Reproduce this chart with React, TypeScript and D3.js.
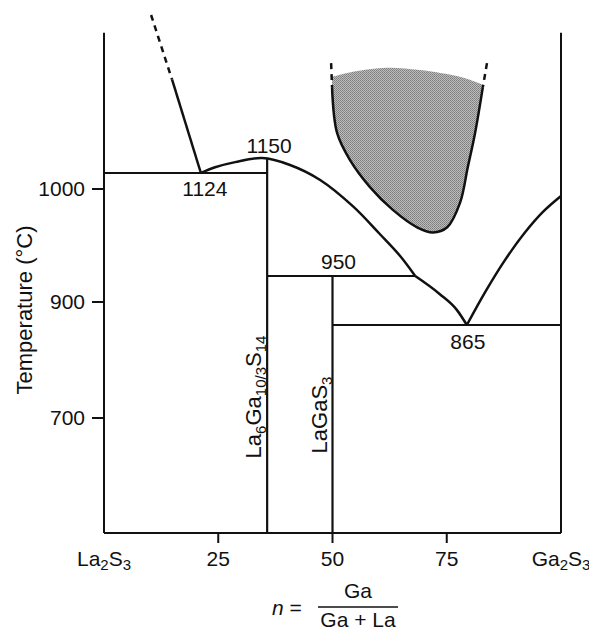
import * as d3 from "d3";

// composition n = Ga/(Ga+La), in %
const xTicks = [25, 50, 75];
const yTicks = [700, 900, 1000];

// the picture is schematic: temperature is not linear, so the y scale is piecewise
const tempAnchors = [500, 700, 865, 900, 950, 1000, 1124, 1400];

// liquidus on the La2S3 side (solid part, dashed continuation)
const liquidusLeftSolid: [number, number][] = [[14.9, 1287], [21.2, 1124]];
const liquidusLeftDashed: [number, number][] = [[10.3, 1400], [14.9, 1287]];

// dome over La6Ga10/3S14, down to the 950 peritectic
const liquidusDome: [number, number][] = [
  [21.2, 1124], [24.3, 1134], [28.7, 1143], [34.6, 1150], [40.7, 1138],
  [47.3, 1070], [54.5, 990], [60.4, 974], [64.8, 961.5], [68.1, 950],
];
// from 950 junction down to the 865 eutectic
const liquidusLow: [number, number][] = [[68.1, 950], [73.5, 915], [77.2, 888], [79.4, 865]];
// Ga2S3 side
const liquidusRight: [number, number][] = [
  [79.4, 865], [83.4, 919], [87.7, 959], [92.1, 975], [96.1, 987], [100, 996],
];

// liquid miscibility gap
const gapBoundary: [number, number][] = [
  [49.9, 1274], [51.0, 1194], [53.8, 1147], [58.2, 1015], [63.2, 988], [68.5, 978],
  [72.0, 975], [75.1, 978], [77.9, 992], [79.6, 1134], [81.2, 1194], [82.9, 1274],
];
const gapTop: [number, number][] = [
  [49.9, 1292], [54.5, 1301], [61.9, 1308], [69.1, 1304], [77.9, 1292], [82.9, 1278],
];
const gapDashLeft: [number, number][] = [[49.7, 1316], [49.9, 1274]];
const gapDashRight: [number, number][] = [[83.8, 1316], [82.9, 1274]];

// invariant lines
const horizontals = [
  { t: 1124, n0: 0, n1: 35.7 },
  { t: 950, n0: 35.7, n1: 68.1 },
  { t: 865, n0: 50, n1: 100 },
];
// compounds
const compounds = [
  { n: 35.7, top: 1150 },
  { n: 50, top: 950 },
];
const pointLabels = [
  { text: "1150", n: 35.7, t: 1150, dx: 2, dy: -5 },
  { text: "1124", n: 21.2, t: 1124, dx: 4, dy: 23 },
  { text: "950", n: 50, t: 950, dx: 6, dy: -7 },
  { text: "865", n: 79.4, t: 865, dx: 1, dy: 24 },
];

const font = "'Liberation Sans', Arial, Helvetica, sans-serif";

export default function App() {
  const width = 589;
  const height = 632;
  const yTop = 1369;

  const x = d3.scaleLinear([0, 100], [104, 561]);
  const y = d3.scaleLinear(tempAnchors, [533, 418, 325, 302, 276, 189, 173, 15]);

  const line = d3.line<[number, number]>((d) => x(d[0]), (d) => y(d[1])).curve(d3.curveMonotoneX);
  const straight = d3.line<[number, number]>((d) => x(d[0]), (d) => y(d[1]));
  const smooth = d3.line<[number, number]>((d) => x(d[0]), (d) => y(d[1])).curve(d3.curveCatmullRom);

  const gapFill =
    smooth(gapTop) + (smooth([...gapBoundary].reverse()) || "").replace(/^M/, "L") + "Z";

  const tx = { fontFamily: font, fontSize: 21, fill: "#111" } as const;
  const sub = { fontSize: 15 };

  return (
    <svg
      width={width}
      height={height}
      style={{ position: "absolute", left: 0, top: 0, background: "#fff" }}
    >
      <defs>
        <pattern id="stipple" width="2" height="2" patternUnits="userSpaceOnUse">
          <rect width="2" height="2" fill="#bdbdbd" />
          <rect width="1" height="1" fill="#7c7c7c" />
          <rect x="1" y="1" width="1" height="1" fill="#8a8a8a" />
        </pattern>
      </defs>

      {/* frame: left, right, bottom */}
      <g stroke="#111" strokeWidth={2} fill="none">
        <line x1={x(0)} x2={x(0)} y1={y(yTop)} y2={y(500)} />
        <line x1={x(100)} x2={x(100)} y1={y(yTop)} y2={y(500)} />
        <line x1={x(0)} x2={x(100)} y1={y(500)} y2={y(500)} />
        {yTicks.map((t) => (
          <line key={t} x1={x(0) - 12} x2={x(0)} y1={y(t)} y2={y(t)} />
        ))}
        {xTicks.map((n) => (
          <line key={n} x1={x(n)} x2={x(n)} y1={y(500)} y2={y(500) + 10} />
        ))}
      </g>

      {/* miscibility gap */}
      <path d={gapFill} fill="url(#stipple)" stroke="none" />
      <path d={smooth(gapBoundary) || ""} fill="none" stroke="#111" strokeWidth={2.5} />
      <g stroke="#111" strokeWidth={2.5} strokeDasharray="6 5" fill="none">
        <path d={straight(gapDashLeft) || ""} />
        <path d={straight(gapDashRight) || ""} />
      </g>

      {/* invariant lines and compounds */}
      <g stroke="#111" strokeWidth={1.8}>
        {horizontals.map((h) => (
          <line key={h.t} x1={x(h.n0)} x2={x(h.n1)} y1={y(h.t)} y2={y(h.t)} />
        ))}
        {compounds.map((c) => (
          <line key={c.n} x1={x(c.n)} x2={x(c.n)} y1={y(c.top)} y2={y(500)} strokeWidth={2.2} />
        ))}
      </g>

      {/* liquidus */}
      <g fill="none" stroke="#111" strokeWidth={2.5}>
        <path d={straight(liquidusLeftSolid) || ""} />
        <path d={straight(liquidusLeftDashed) || ""} strokeDasharray="6 5" />
        <path d={smooth(liquidusDome) || ""} />
        <path d={line(liquidusLow) || ""} />
        <path d={smooth(liquidusRight) || ""} />
      </g>

      {/* point labels */}
      {pointLabels.map((p) => (
        <text key={p.text} {...tx} x={x(p.n) + p.dx} y={y(p.t) + p.dy} textAnchor="middle">
          {p.text}
        </text>
      ))}

      {/* y axis */}
      {yTicks.map((t) => (
        <text key={t} {...tx} x={x(0) - 19} y={y(t) + 7} textAnchor="end">
          {t}
        </text>
      ))}
      <text {...tx} fontSize={22} transform={`translate(32, 310) rotate(-90)`} textAnchor="middle">
        Temperature (°C)
      </text>

      {/* x axis */}
      {xTicks.map((n) => (
        <text key={n} {...tx} x={x(n)} y={566} textAnchor="middle">
          {n}
        </text>
      ))}
      <text {...tx} x={x(0)} y={566} textAnchor="middle">
        La<tspan {...sub} dy={4}>2</tspan><tspan dy={-4}>S</tspan><tspan {...sub} dy={4}>3</tspan>
      </text>
      <text {...tx} x={x(100)} y={566} textAnchor="middle">
        Ga<tspan {...sub} dy={4}>2</tspan><tspan dy={-4}>S</tspan><tspan {...sub} dy={4}>3</tspan>
      </text>

      {/* compound names */}
      <text {...tx} fontSize={22} transform={`translate(${x(35.7) - 6}, 397) rotate(-90)`} textAnchor="middle">
        La<tspan fontSize={15} dy={5}>6</tspan><tspan dy={-5}>Ga</tspan>
        <tspan fontSize={15} dy={5}>10/3</tspan><tspan dy={-5}>S</tspan>
        <tspan fontSize={15} dy={5}>14</tspan>
      </text>
      <text {...tx} fontSize={22} transform={`translate(${x(50) - 6}, 415) rotate(-90)`} textAnchor="middle">
        LaGaS<tspan fontSize={15} dy={5}>3</tspan>
      </text>

      {/* n = Ga / (Ga + La) */}
      <text {...tx} x={272} y={615}>
        <tspan fontStyle="italic">n</tspan> =
      </text>
      <text {...tx} x={358} y={598} textAnchor="middle">Ga</text>
      <line x1={318} x2={398} y1={607} y2={607} stroke="#111" strokeWidth={1.5} />
      <text {...tx} x={358} y={627} textAnchor="middle">Ga + La</text>
    </svg>
  );
}
